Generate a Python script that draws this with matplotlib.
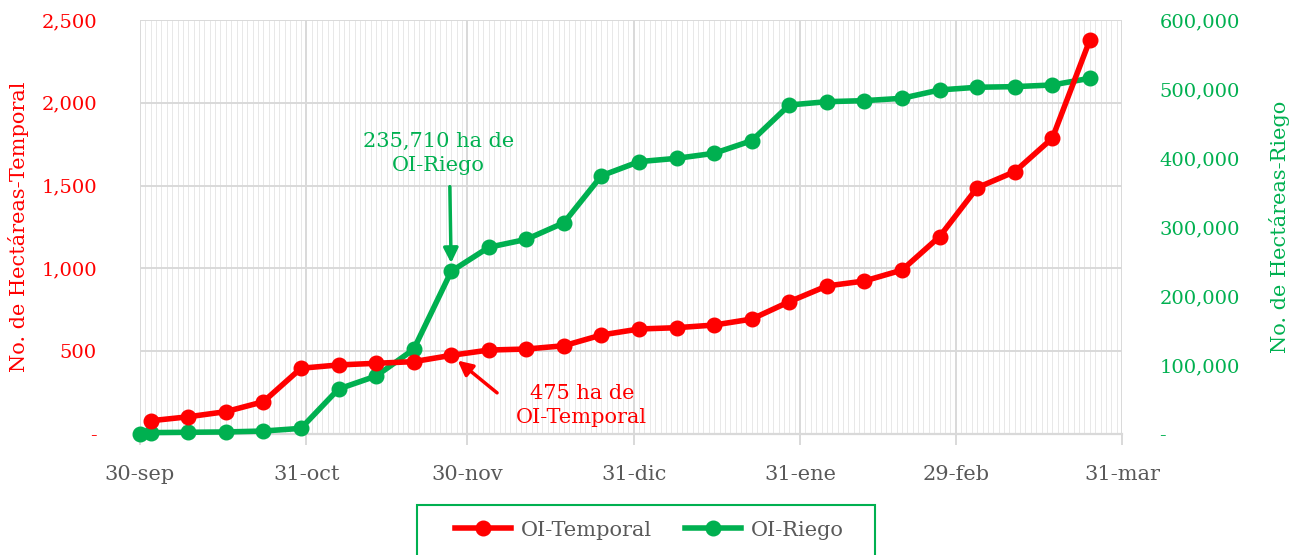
import numpy as np
import matplotlib
matplotlib.use('Agg')
from matplotlib import pyplot as plt
from matplotlib.ticker import FuncFormatter, MultipleLocator
from matplotlib.patches import Rectangle
import matplotlib.dates as mdates

# fechas semanales (30-sep-2019 a 25-mar-2020)
fechas = np.array(['2019-09-30', '2019-10-02', '2019-10-09', '2019-10-16', '2019-10-23',
                   '2019-10-30', '2019-11-06', '2019-11-13', '2019-11-20', '2019-11-27',
                   '2019-12-04', '2019-12-11', '2019-12-18', '2019-12-25', '2020-01-01',
                   '2020-01-08', '2020-01-15', '2020-01-22', '2020-01-29', '2020-02-05',
                   '2020-02-12', '2020-02-19', '2020-02-26', '2020-03-04', '2020-03-11',
                   '2020-03-18', '2020-03-25'], dtype='datetime64[D]')
# OI-Temporal empieza el 2-oct
temporal = [80, 104, 135, 195, 397, 417, 427, 437, 475, 507, 513, 533, 598, 634,
            642, 658, 694, 799, 894, 924, 990, 1192, 1487, 1584, 1786, 2379]
riego = [0, 2000, 2500, 3000, 4300, 8200, 65200, 84000, 122700, 235710, 270600,
         282100, 306200, 374300, 394700, 399500, 406800, 425100, 476800, 481600,
         483100, 486500, 498600, 502500, 503400, 505800, 515500]

ticks_x = np.array(['2019-09-30', '2019-10-31', '2019-11-30', '2019-12-31',
                    '2020-01-31', '2020-02-29', '2020-03-31'], dtype='datetime64[D]')
etiquetas_x = ['30-sep', '31-oct', '30-nov', '31-dic', '31-ene', '29-feb', '31-mar']

rojo = '#FF0000'
verde = '#00B050'
gris = '#595959'
linea_gris = '#d9d9d9'
plt.rcParams['font.family'] = ['DejaVu Serif']

fig = plt.figure(figsize=(13.02, 5.55), dpi=100)
ax = fig.add_axes([0.1075, 0.218, 0.7543, 0.746])
ax2 = ax.twinx()
ax3 = ax.twinx()

ax.set_xlim(ticks_x[0], ticks_x[-1])
ax.set_ylim(0, 2500)
ax2.set_ylim(0, 600000)
ax3.set_ylim(0, 2500)

# rejilla
ax.set_xticks(ticks_x, etiquetas_x)
ax.xaxis.set_minor_locator(mdates.DayLocator())
ax.yaxis.set_major_locator(MultipleLocator(500))
ax.grid(True, which='major', color=linea_gris, lw=1.4)
ax.grid(True, which='minor', axis='x', color='#e8e8e8', lw=0.7)
ax.tick_params(axis='x', which='major', length=8, width=1.4, color=linea_gris,
               pad=14, labelsize=15, labelcolor=gris)
ax.tick_params(axis='x', which='minor', length=0)
ax.tick_params(axis='y', length=0, pad=31, labelsize=14, labelcolor=rojo)
ax.yaxis.set_major_formatter(FuncFormatter(lambda v, p: '-' if v == 0 else f'{v:,.0f}'))

ax2.yaxis.set_major_locator(MultipleLocator(100000))
ax2.yaxis.set_major_formatter(FuncFormatter(lambda v, p: '-' if v == 0 else f'{v:,.0f}'))
ax2.tick_params(axis='y', length=0, pad=27, labelsize=14, labelcolor=verde)
ax3.axis('off')

for a in (ax, ax2, ax3):
    for s in ('top', 'left', 'right', 'bottom'):
        a.spines[s].set_visible(False)
ax.spines['bottom'].set_visible(True)
ax.spines['bottom'].set_color(linea_gris)
ax.spines['bottom'].set_linewidth(1.6)

# series
l2, = ax2.plot(fechas, riego, color=verde, lw=4, marker='o', ms=10.5,
               label='OI-Riego', clip_on=False)
l1, = ax3.plot(fechas[1:], temporal, color=rojo, lw=4, marker='o', ms=10.5,
               label='OI-Temporal', clip_on=False)

ax.set_ylabel('No. de Hectáreas-Temporal', color=rojo, fontsize=15)
ax.yaxis.set_label_coords(-0.113, 0.5)
ax2.set_ylabel('No. de Hectáreas-Riego', color=verde, fontsize=15)
ax2.yaxis.set_label_coords(1.150, 0.5)

# anotaciones
ax2.annotate('', xy=(fechas[9], riego[9]), xytext=(-1, 61), textcoords='offset points',
             arrowprops=dict(arrowstyle='-|>', color=verde, lw=2.5, mutation_scale=22,
                             shrinkA=0, shrinkB=6))
ax2.annotate('235,710 ha de\nOI-Riego', xy=(fechas[9], riego[9]), xytext=(-9, 85),
             textcoords='offset points', ha='center', va='center', color=verde,
             fontsize=15, linespacing=1.35)
ax3.annotate('', xy=(fechas[9], temporal[8]), xytext=(33, -27), textcoords='offset points',
             arrowprops=dict(arrowstyle='-|>', color=rojo, lw=2.5, mutation_scale=22,
                             shrinkA=0, shrinkB=6))
ax3.annotate('475 ha de\nOI-Temporal', xy=(fechas[9], temporal[8]), xytext=(94, -36),
             textcoords='offset points', ha='center', va='center', color=rojo,
             fontsize=15, linespacing=1.35)

leg = fig.legend(handles=[l1, l2], loc='center', bbox_to_anchor=(0.4985, 0.045), ncol=2,
                 fontsize=15, frameon=False, handlelength=2.7, columnspacing=1.6,
                 handletextpad=0.45)
for t in leg.get_texts():
    t.set_color(gris)
fig.patches.append(Rectangle((417 / 1302, -0.02), 458 / 1302, 0.11, transform=fig.transFigure,
                             fill=False, edgecolor=verde, lw=1.5))

fig.savefig('out.png', dpi=100)
